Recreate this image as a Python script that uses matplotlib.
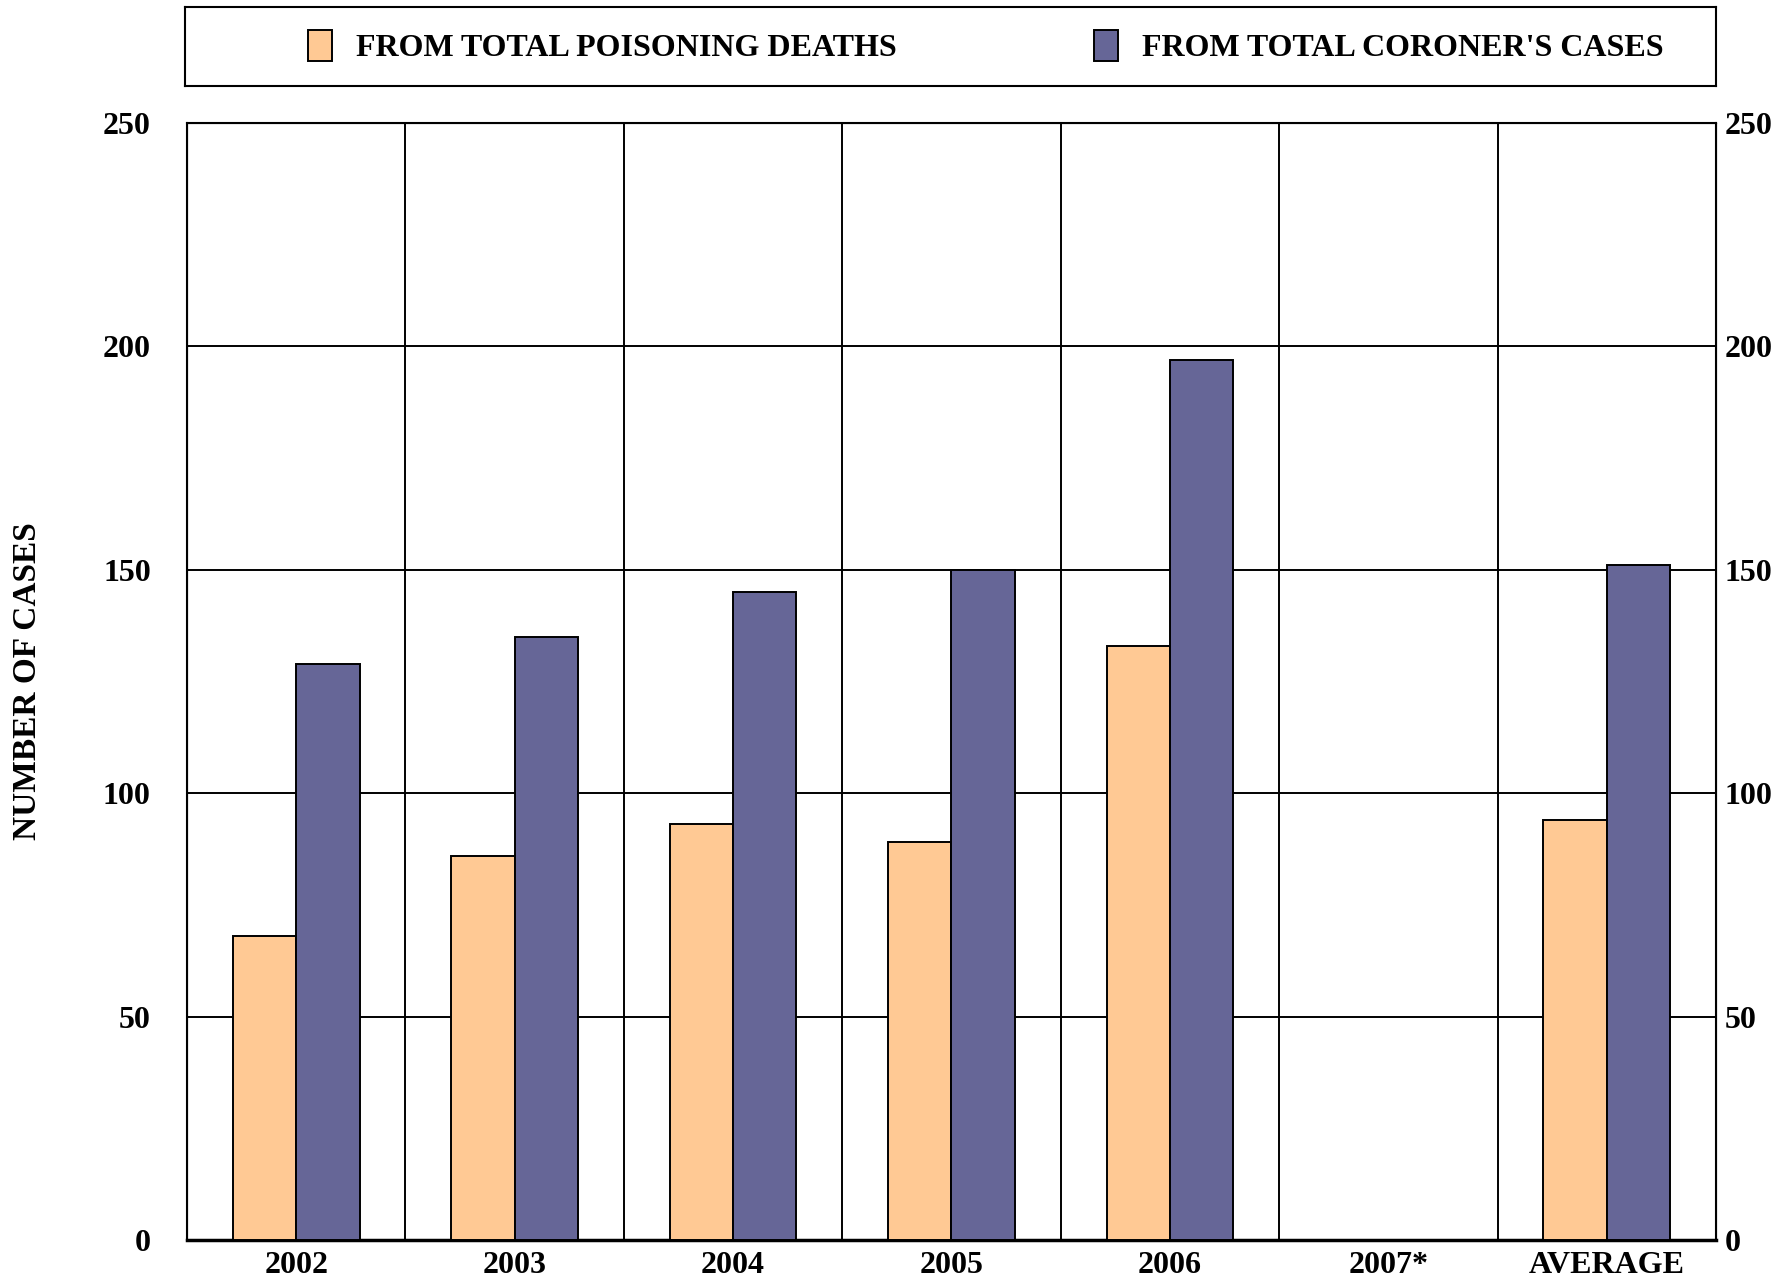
import numpy as np
import matplotlib
matplotlib.use('Agg')
import matplotlib.pyplot as plt

plt.rcParams['font.family'] = ['Liberation Serif', 'DejaVu Serif']
plt.rcParams['font.weight'] = 'bold'

categories = ['2002', '2003', '2004', '2005', '2006', '2007*', 'AVERAGE']
poisoning = [68, 86, 93, 89, 133, np.nan, 94]
coroner = [129, 135, 145, 150, 197, np.nan, 151]
series_names = ['FROM TOTAL POISONING DEATHS', "FROM TOTAL CORONER'S CASES"]
yticks = [0, 50, 100, 150, 200, 250]

orange = '#FFC994'
purple = '#666697'

fig = plt.figure(figsize=(17.79, 12.81), dpi=100)
ax = fig.add_axes([0.1051, 0.032, 0.8595, 0.872])

x = np.arange(len(categories))
w = 0.29
b1 = ax.bar(x - w / 2, poisoning, width=w, color=orange, edgecolor='black', linewidth=1.4, zorder=3)
b2 = ax.bar(x + w / 2, coroner, width=w, color=purple, edgecolor='black', linewidth=1.4, zorder=3)

ax.set_xlim(-0.5, len(categories) - 0.5)
ax.set_ylim(0, 250)
ax.set_yticks(yticks)
ax.set_xticks(x)
ax.set_xticklabels(categories, fontsize=23, fontweight='bold')
ax.set_xticks(np.arange(len(categories) - 1) + 0.5, minor=True)
ax.tick_params(axis='x', which='both', length=0, pad=8)
ax.tick_params(axis='y', length=0, pad=26, labelsize=23)
ax.grid(True, axis='y', which='major', color='black', linewidth=1.4, zorder=1)
ax.grid(True, axis='x', which='minor', color='black', linewidth=1.4, zorder=1)
for s in ax.spines.values():
    s.set_linewidth(1.5)
ax.spines['bottom'].set_linewidth(2.5)

ax2 = ax.twinx()
ax2.set_ylim(ax.get_ylim())
ax2.set_yticks(yticks)
ax2.tick_params(axis='y', length=0, pad=6, labelsize=23)

fig.text(0.0155, 0.468, 'NUMBER OF CASES', rotation=90, ha='center', va='center',
         fontsize=24, fontweight='bold')

# legend box across the top
lax = fig.add_axes([0.104, 0.9329, 0.8606, 0.0616])
lax.set_xticks([])
lax.set_yticks([])
for s in lax.spines.values():
    s.set_linewidth(1.5)
lax.legend([b1, b2], series_names, loc='center', bbox_to_anchor=(0.523, 0.5), ncol=2,
           frameon=False, handlelength=0.75, handleheight=1.1,
           columnspacing=6.2, handletextpad=0.75, prop={'weight': 'bold', 'size': 23})

fig.savefig('out.png', dpi=100)
